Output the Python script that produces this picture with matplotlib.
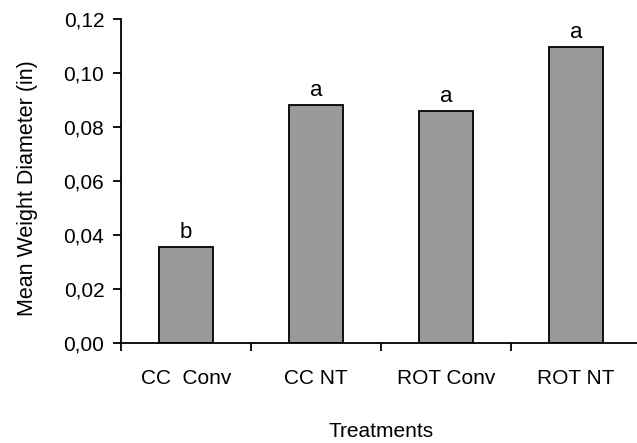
import numpy as np
import matplotlib.pyplot as plt
from matplotlib.ticker import FuncFormatter, FixedLocator

plt.rcParams['font.family'] = ['Liberation Sans', 'DejaVu Sans']

# data
treatments = ["CC  Conv", "CC NT", "ROT Conv", "ROT NT"]
mwd = [0.0354, 0.088, 0.086, 0.1097]
letters = ["b", "a", "a", "a"]

fig = plt.figure(figsize=(6.37, 4.43), dpi=100)
ax = fig.add_axes([0.19, 0.226, 0.8163, 0.731])

x = np.arange(len(treatments))
ax.bar(x, mwd, width=0.41, color="#999999", edgecolor="black", linewidth=1.3)

for xi, v, lab in zip(x, mwd, letters):
    ax.annotate(lab, (xi, v), xytext=(0, 3), textcoords="offset points",
                ha="center", va="bottom", fontsize=16)

ax.set_xlim(-0.5, len(treatments) - 0.5)
ax.set_ylim(0, 0.12)
ax.set_yticks(np.arange(0, 0.121, 0.02))
ax.yaxis.set_major_formatter(FuncFormatter(lambda v, p: f"{v:.2f}".replace(".", ",")))

ax.set_xticks(x)
ax.set_xticklabels(treatments)
ax.xaxis.set_minor_locator(FixedLocator(np.arange(-0.5, len(treatments), 1.0)))
ax.tick_params(axis="x", which="major", length=0, pad=19, labelsize=15)
ax.tick_params(axis="x", which="minor", length=6, width=1.3, direction="out")
ax.tick_params(axis="y", length=6, width=1.3, direction="out", labelsize=15, pad=6)

for s in ["top", "right"]:
    ax.spines[s].set_visible(False)
for s in ["left", "bottom"]:
    ax.spines[s].set_linewidth(1.3)

ax.set_ylabel("Mean Weight Diameter (in)", fontsize=15.5)
ax.yaxis.set_label_coords(-0.16, 0.478)
ax.set_xlabel("Treatments", fontsize=15, labelpad=24)

fig.savefig("out.png", dpi=100)
